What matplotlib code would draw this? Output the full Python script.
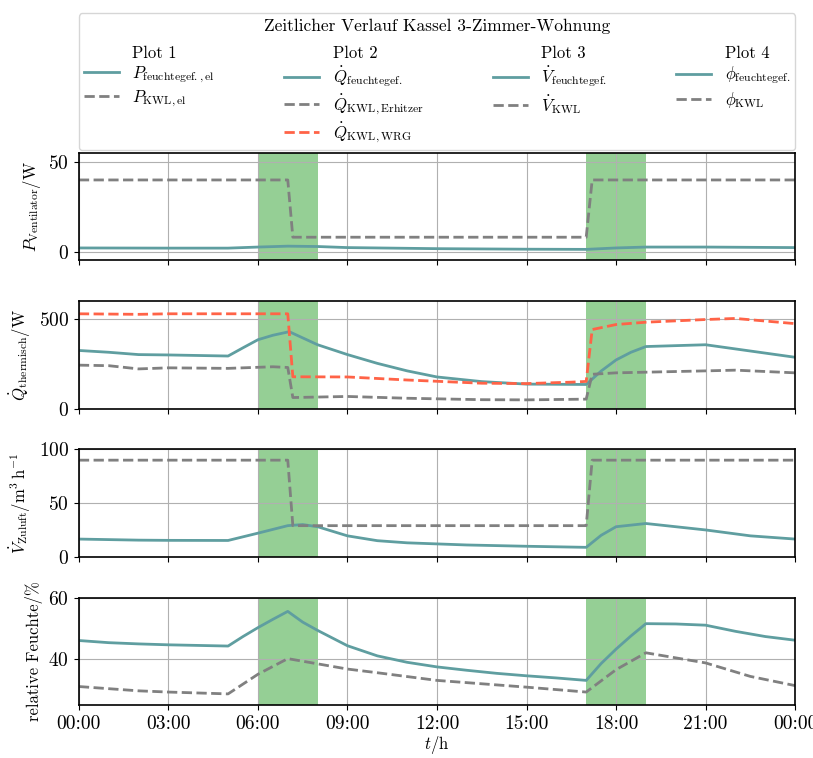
import matplotlib
matplotlib.use("Agg")
import matplotlib.pyplot as plt
from matplotlib.lines import Line2D

plt.rcParams['font.family'] = 'serif'
plt.rcParams['font.serif'] = ['cmr10']
plt.rcParams['mathtext.fontset'] = 'cm'
plt.rcParams['axes.formatter.use_mathtext'] = True
plt.rcParams['font.size'] = 12
plt.rcParams['xtick.labelsize'] = 14
plt.rcParams['ytick.labelsize'] = 14
plt.rcParams['axes.linewidth'] = 1.2

# x axis
hour_ticks = [0, 3, 6, 9, 12, 15, 18, 21, 24]
hour_labels = ["00:00", "03:00", "06:00", "09:00", "12:00", "15:00", "18:00", "21:00", "00:00"]
green_spans = [(6, 8), (17, 19)]

# Plot 1: Ventilator
t_p_feucht = [0, 3, 5, 6, 7, 8, 9, 12, 15, 17, 18, 19, 21, 24]
p_feucht = [2.0, 1.9, 1.9, 2.5, 3.0, 2.8, 2.2, 1.6, 1.3, 1.2, 2.0, 2.5, 2.5, 2.2]
t_p_kwl = [0, 7.0, 7.17, 17.0, 17.2, 24]
p_kwl = [40, 40, 8, 8, 40, 40]

# Plot 2: thermisch
t_q_feucht = [0, 1, 2, 3, 5, 5.5, 6, 6.5, 7.05, 8, 9, 10, 11, 12, 13.5, 15, 17, 17.5, 18, 18.5, 19, 21, 24]
q_feucht = [325, 315, 302, 300, 294, 340, 385, 410, 430, 357, 302, 253, 211, 177, 151, 137, 135, 210, 272, 315, 347, 357, 287]
t_q_erh = [0, 1, 2, 3, 5, 6.5, 7.0, 7.17, 9, 11, 13.5, 15, 17.0, 17.2, 18, 21, 22, 24]
q_erh = [243, 240, 222, 228, 225, 234, 230, 62, 68, 58, 50, 49, 53, 192, 200, 211, 215, 200]
t_q_wrg = [0, 2, 3, 5, 7.0, 7.17, 9, 11, 13.5, 15, 16.5, 17.0, 17.2, 18, 19, 21, 22, 24]
q_wrg = [530, 527, 530, 530, 530, 178, 177, 160, 142, 140, 148, 152, 442, 470, 483, 498, 504, 475]

# Plot 3: Volumenstrom
t_v_feucht = [0, 2, 3, 5, 6, 7, 7.5, 8, 9, 10, 11, 13, 15, 17, 17.5, 18, 19, 21, 22.5, 24]
v_feucht = [16.5, 15.5, 15.3, 15.2, 22, 29, 30, 28, 19.5, 15, 13, 11, 9.8, 8.8, 20, 28, 31, 25, 19.5, 16.5]
t_v_kwl = [0, 7.0, 7.17, 17.0, 17.2, 24]
v_kwl = [90, 90, 29, 29, 90, 90]

# Plot 4: relative Feuchte
t_phi_feucht = [0, 1, 2, 3, 5, 5.5, 6, 6.5, 7, 7.5, 8, 9, 10, 11, 12, 13, 14, 15, 16, 17,
                17.5, 18, 18.5, 19, 20, 21, 22, 23, 24]
phi_feucht = [46.0, 45.3, 44.9, 44.6, 44.2, 47.3, 50.2, 52.9, 55.5, 52.0, 49.3, 44.3, 41.0, 38.9, 37.4,
              36.3, 35.3, 34.5, 33.8, 33.0, 38.5, 43.2, 47.5, 51.5, 51.4, 51.0, 49.0, 47.3, 46.1]
t_phi_kwl = [0, 2, 3, 5, 6, 7, 8, 9, 10, 12, 15, 17, 18, 19, 21, 22.5, 24]
phi_kwl = [31.0, 29.6, 29.2, 28.6, 35.0, 40.1, 38.4, 36.7, 35.5, 33.0, 30.8, 29.2, 36.5, 42.0, 38.7, 34.3, 31.3]

c_teal = '#5f9ea0'
c_grey = 'grey'
c_red = 'tomato'
lw = 2

fig, axes = plt.subplots(4, 1, sharex=True, figsize=(8.13, 7.58), dpi=100)
fig.subplots_adjust(left=0.097, right=0.978, top=0.798, bottom=0.070, hspace=0.38)
ax1, ax2, ax3, ax4 = axes

for ax in axes:
    for a, b in green_spans:
        ax.axvspan(a, b, color='tab:green', alpha=0.5, lw=0)
    ax.grid(True)
    ax.set_xlim(0, 24)

h1, = ax1.plot(t_p_feucht, p_feucht, color=c_teal, lw=lw)
h2, = ax1.plot(t_p_kwl, p_kwl, color=c_grey, lw=lw, ls='--')
ax1.set_ylim(-5, 55)
ax1.set_yticks([0, 50])
ax1.set_ylabel(r'$P_\mathrm{Ventilator}/\mathrm{W}$')

h3, = ax2.plot(t_q_feucht, q_feucht, color=c_teal, lw=lw)
h4, = ax2.plot(t_q_erh, q_erh, color=c_grey, lw=lw, ls='--')
h5, = ax2.plot(t_q_wrg, q_wrg, color=c_red, lw=lw, ls='--')
ax2.set_ylim(0, 600)
ax2.set_yticks([0, 500])
ax2.set_ylabel(r'$\dot{Q}_\mathrm{thermisch}/\mathrm{W}$')

h6, = ax3.plot(t_v_feucht, v_feucht, color=c_teal, lw=lw)
h7, = ax3.plot(t_v_kwl, v_kwl, color=c_grey, lw=lw, ls='--')
ax3.set_ylim(0, 100)
ax3.set_yticks([0, 50, 100])
ax3.set_ylabel(r'$\dot{V}_\mathrm{Zuluft}/\mathrm{m^3\,h^{-1}}$')

h8, = ax4.plot(t_phi_feucht, phi_feucht, color=c_teal, lw=lw)
h9, = ax4.plot(t_phi_kwl, phi_kwl, color=c_grey, lw=lw, ls='--')
ax4.set_ylim(25, 60)
ax4.set_yticks([40, 60])
ax4.set_ylabel('relative Feuchte/%')

ax4.set_xticks(hour_ticks)
ax4.set_xticklabels(hour_labels)
ax4.set_xlabel(r'$t/\mathrm{h}$', labelpad=1)

blank = Line2D([], [], linestyle='none')
handles = [blank, h1, h2, blank,
           blank, h3, h4, h5,
           blank, h6, h7, blank,
           blank, h8, h9, blank]
labels = ['Plot 1', r'$P_\mathrm{feuchtegef.,el}$', r'$P_\mathrm{KWL,el}$', '',
          'Plot 2', r'$\dot{Q}_\mathrm{feuchtegef.}$', r'$\dot{Q}_\mathrm{KWL,Erhitzer}$', r'$\dot{Q}_\mathrm{KWL,WRG}$',
          'Plot 3', r'$\dot{V}_\mathrm{feuchtegef.}$', r'$\dot{V}_\mathrm{KWL}$', '',
          'Plot 4', r'$\phi_\mathrm{feuchtegef.}$', r'$\phi_\mathrm{KWL}$', '']
leg = fig.legend(handles, labels, ncol=4, loc='lower left', mode='expand',
                 bbox_to_anchor=(0.097, 0.802, 0.881, 0.18), borderaxespad=0,
                 title='Zeitlicher Verlauf Kassel 3-Zimmer-Wohnung',
                 title_fontsize=12.5, fontsize=12, handlelength=2.1,
                 labelspacing=0.2, borderpad=0.3)
leg._legend_box.sep = 9

fig.savefig('out.png', dpi=100)
